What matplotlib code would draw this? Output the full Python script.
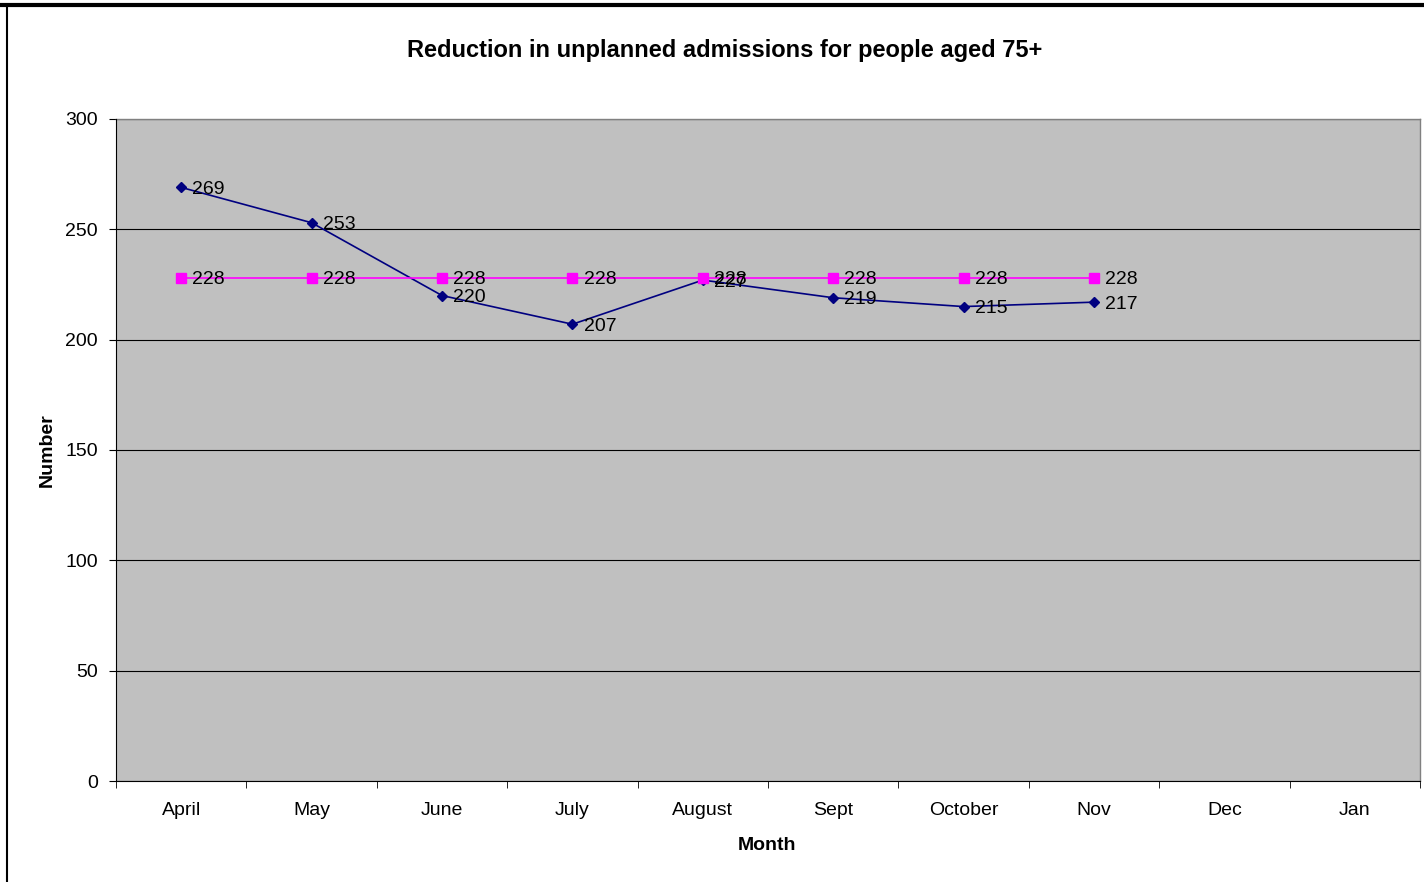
import matplotlib
matplotlib.use("Agg")
import matplotlib.pyplot as plt
from matplotlib.lines import Line2D

plt.rcParams['font.family'] = ['Liberation Sans', 'DejaVu Sans']

months = ["April", "May", "June", "July", "August", "Sept", "October", "Nov", "Dec", "Jan"]
actual = [269, 253, 220, 207, 227, 219, 215, 217]
target = [228, 228, 228, 228, 228, 228, 228, 228]

fig = plt.figure(figsize=(14.24, 8.82), dpi=100)
ax = fig.add_axes([116 / 1424, 1 - 781 / 882, 1304 / 1424, 662 / 882])
ax.set_facecolor("#C0C0C0")

x_act = list(range(len(actual)))
x_tgt = list(range(len(target)))

ax.plot(x_act, actual, color="#000080", lw=1.2, marker="D", ms=5.5,
        markerfacecolor="#000080", markeredgecolor="#000080", zorder=3)
ax.plot(x_tgt, target, color="#FF00FF", lw=1.2, marker="s", ms=7,
        markerfacecolor="#FF00FF", markeredgecolor="#FF00FF", zorder=4)

for xi, v in zip(x_tgt, target):
    ax.annotate(str(v), (xi, v), xytext=(8, -1.5), textcoords="offset points",
                ha="left", va="center", fontsize=14, zorder=5)
for xi, v in zip(x_act, actual):
    ax.annotate(str(v), (xi, v), xytext=(8, -1.5), textcoords="offset points",
                ha="left", va="center", fontsize=14, zorder=5)

ax.set_xlim(-0.5, len(months) - 0.5)
ax.set_ylim(0, 300)
ax.set_yticks(range(0, 301, 50))
ax.yaxis.grid(True, color="black", lw=0.8)
ax.set_axisbelow(True)

# category labels centred, tick marks on category boundaries
ax.set_xticks(range(len(months)))
ax.set_xticklabels(months, fontsize=14)
ax.tick_params(axis="x", length=0, pad=15)
ax.set_xticks([i - 0.5 for i in range(len(months) + 1)], minor=True)
ax.tick_params(axis="x", which="minor", length=5, direction="out", color="black")
ax.tick_params(axis="y", labelsize=14, length=5, direction="out", pad=8)

for s in ["top", "right"]:
    ax.spines[s].set_visible(False)
ax.spines["left"].set_color("black")
ax.spines["bottom"].set_color("black")
ax.plot([1, 1], [0, 1], transform=ax.transAxes, color="#808080", lw=1, clip_on=False)
ax.plot([0, 1], [1, 1], transform=ax.transAxes, color="#808080", lw=1, clip_on=False)

ax.set_xlabel("Month", fontsize=14, fontweight="bold")
ax.set_ylabel("Number", fontsize=14, fontweight="bold")
ax.xaxis.set_label_coords((767 - 116) / 1304, (781 - 845) / 662)
ax.yaxis.set_label_coords((47 - 116) / 1304, 0.5)
ax.xaxis.label.set_va("center")
ax.yaxis.label.set_va("center")
fig.text(725 / 1424, 1 - 50 / 882, "Reduction in unplanned admissions for people aged 75+",
         ha="center", va="center", fontsize=17, fontweight="bold")

# outer chart frame
fig.add_artist(Line2D([0, 1], [1 - 4.5 / 882, 1 - 4.5 / 882], transform=fig.transFigure,
                      color="black", lw=3))
fig.add_artist(Line2D([7 / 1424, 7 / 1424], [0, 1 - 4.5 / 882], transform=fig.transFigure,
                      color="black", lw=1.5))

fig.savefig("out.png", dpi=100)
